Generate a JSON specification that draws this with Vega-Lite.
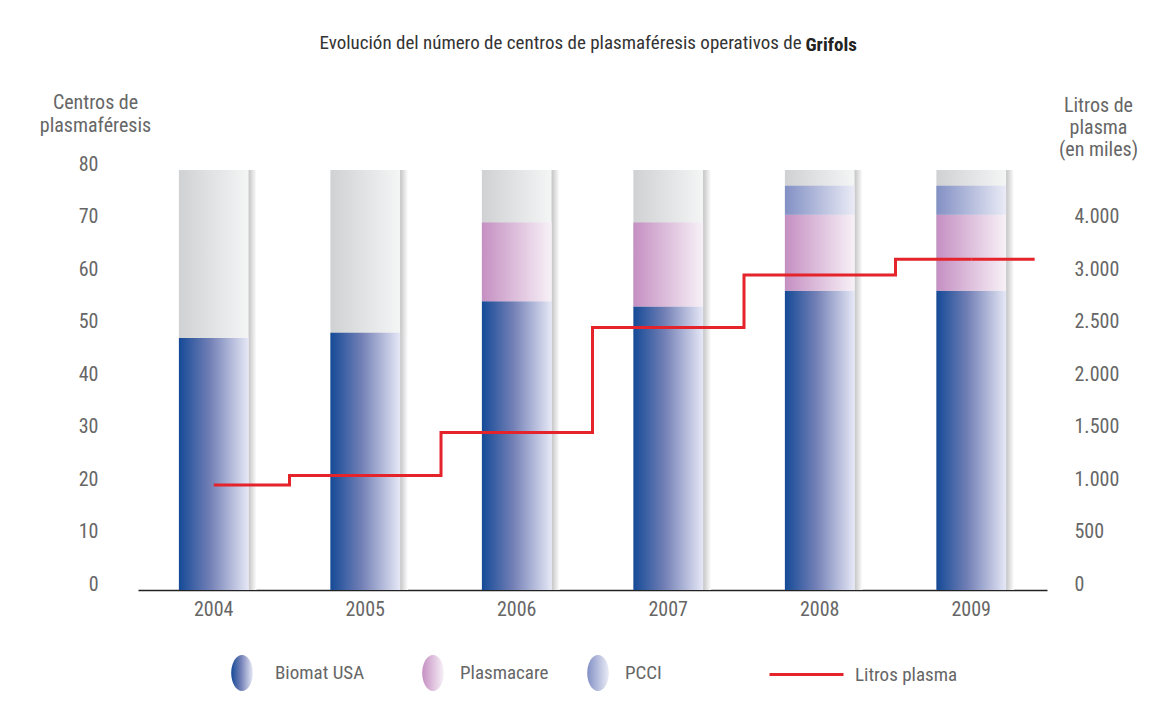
{
  "$schema": "https://vega.github.io/schema/vega-lite/v6.json",
  "width": 909,
  "height": 420,
  "autosize": {"type": "none"},
  "padding": {"left": 138, "top": 170, "right": 113, "bottom": 125},
  "background": "white",
  "title": {
    "text": "Evolución del número de centros de plasmaféresis operativos de",
    "font": "Liberation Sans Narrow, Roboto Condensed, DejaVu Sans Condensed, sans-serif",
    "fontSize": 19,
    "fontWeight": "normal",
    "color": "#333333",
    "anchor": "middle",
    "dx": -32,
    "offset": -18
  },
  "datasets": {
    "centros": [
      {"year": "2004", "serie": "Biomat USA", "centros": 48, "orden": 1},
      {"year": "2005", "serie": "Biomat USA", "centros": 49, "orden": 1},
      {"year": "2006", "serie": "Biomat USA", "centros": 55, "orden": 1},
      {"year": "2006", "serie": "Plasmacare", "centros": 15, "orden": 2},
      {"year": "2007", "serie": "Biomat USA", "centros": 54, "orden": 1},
      {"year": "2007", "serie": "Plasmacare", "centros": 16, "orden": 2},
      {"year": "2008", "serie": "Biomat USA", "centros": 57, "orden": 1},
      {"year": "2008", "serie": "Plasmacare", "centros": 14.5, "orden": 2},
      {"year": "2008", "serie": "PCCI", "centros": 5.5, "orden": 3},
      {"year": "2009", "serie": "Biomat USA", "centros": 57, "orden": 1},
      {"year": "2009", "serie": "Plasmacare", "centros": 14.5, "orden": 2},
      {"year": "2009", "serie": "PCCI", "centros": 5.5, "orden": 3}
    ],
    "litros": [
      {"year": "2004", "litros": 1000},
      {"year": "2005", "litros": 1090},
      {"year": "2006", "litros": 1500},
      {"year": "2007", "litros": 2500},
      {"year": "2008", "litros": 3000},
      {"year": "2009", "litros": 3150}
    ]
  },
  "layer": [
    {
      "encoding": {
        "x": {
          "field": "year",
          "type": "ordinal",
          "scale": {"paddingInner": 0.54, "paddingOuter": 0.27},
          "axis": {"title": null}
        }
      },
      "resolve": {
        "scale": {"strokeDash": "independent"},
        "legend": {"strokeDash": "independent"}
      },
      "layer": [
        {
          "data": {"name": "litros"},
          "mark": {
            "type": "bar",
            "xOffset": 8,
            "fill": {
              "gradient": "linear", "x1": 0, "y1": 0, "x2": 1, "y2": 0,
              "stops": [
                {"offset": 0, "color": "#bcbcbe"},
                {"offset": 0.88, "color": "#c2c2c4"},
                {"offset": 1, "color": "#ffffff"}
              ]
            }
          },
          "encoding": {
            "y": {
              "datum": 80,
              "type": "quantitative",
              "scale": {"domain": [0, 80], "nice": false},
              "axis": {
                "orient": "left",
                "values": [0, 10, 20, 30, 40, 50, 60, 70, 80],
                "title": ["Centros de", "plasmaféresis"],
                "titleAngle": 0,
                "titleAlign": "center",
                "titleBaseline": "alphabetic",
                "titleX": -43,
                "titleY": -62,
                "titleLineHeight": 23,
                "labelPadding": 40,
                "labelBaseline": "alphabetic"
              }
            }
          }
        },
        {
          "data": {"name": "litros"},
          "mark": {
            "type": "bar",
            "fill": {
              "gradient": "linear", "x1": 0, "y1": 0, "x2": 1, "y2": 0,
              "stops": [
                {"offset": 0, "color": "#d0d1d3"},
                {"offset": 1, "color": "#f4f5f5"}
              ]
            }
          },
          "encoding": {
            "y": {"datum": 80, "type": "quantitative"}
          }
        },
        {
          "data": {"name": "centros"},
          "mark": {"type": "bar"},
          "encoding": {
            "y": {
              "field": "centros",
              "type": "quantitative",
              "stack": "zero",
              "title": ["Centros de", "plasmaféresis"]
            },
            "order": {"field": "orden", "type": "quantitative"},
            "fill": {
              "condition": [
                {
                  "test": "datum.serie === 'Biomat USA'",
                  "value": {
                    "gradient": "linear", "x1": 0, "y1": 0, "x2": 1, "y2": 0,
                    "stops": [
                      {"offset": 0, "color": "#154a97"},
                      {"offset": 0.45, "color": "#7380b6"},
                      {"offset": 1, "color": "#e6e8f6"}
                    ]
                  }
                },
                {
                  "test": "datum.serie === 'Plasmacare'",
                  "value": {
                    "gradient": "linear", "x1": 0, "y1": 0, "x2": 1, "y2": 0,
                    "stops": [
                      {"offset": 0, "color": "#c58fc2"},
                      {"offset": 1, "color": "#f7f1f7"}
                    ]
                  }
                }
              ],
              "value": {
                "gradient": "linear", "x1": 0, "y1": 0, "x2": 1, "y2": 0,
                "stops": [
                  {"offset": 0, "color": "#8290c4"},
                  {"offset": 1, "color": "#eaebf6"}
                ]
              }
            }
          }
        },
        {
          "data": {"name": "litros"},
          "mark": {
            "type": "bar",
            "opacity": 0,
            "fill": {
              "gradient": "linear", "x1": 0, "y1": 0, "x2": 1, "y2": 0,
              "stops": [
                {"offset": 0, "color": "#154a97"},
                {"offset": 0.45, "color": "#7380b6"},
                {"offset": 1, "color": "#e6e8f6"}
              ]
            }
          },
          "encoding": {
            "y": {"datum": 0, "type": "quantitative"},
            "strokeDash": {
              "datum": "Biomat USA",
              "type": "nominal",
              "legend": {
                "title": null,
                "orient": "none",
                "legendX": 86,
                "legendY": 485,
                "symbolType": "M0,-1A0.6,1,0,1,1,0,1A0.6,1,0,1,1,0,-1Z",
                "symbolSize": 1296,
                "symbolStrokeWidth": 0,
                "symbolOpacity": 1,
                "labelOffset": 15,
                "labelFontSize": 19,
                "labelColor": "#666666",
                "labelFont": "Liberation Sans Narrow, Roboto Condensed, DejaVu Sans Condensed, sans-serif"
              }
            }
          }
        },
        {
          "data": {"name": "litros"},
          "mark": {
            "type": "bar",
            "opacity": 0,
            "fill": {
              "gradient": "linear", "x1": 0, "y1": 0, "x2": 1, "y2": 0,
              "stops": [
                {"offset": 0, "color": "#c58fc2"},
                {"offset": 1, "color": "#f7f1f7"}
              ]
            }
          },
          "encoding": {
            "y": {"datum": 0, "type": "quantitative"},
            "strokeDash": {
              "datum": "Plasmacare",
              "type": "nominal",
              "legend": {
                "title": null,
                "orient": "none",
                "legendX": 277,
                "legendY": 485,
                "symbolType": "M0,-1A0.6,1,0,1,1,0,1A0.6,1,0,1,1,0,-1Z",
                "symbolSize": 1296,
                "symbolStrokeWidth": 0,
                "symbolOpacity": 1,
                "labelOffset": 9,
                "labelFontSize": 19,
                "labelColor": "#666666",
                "labelFont": "Liberation Sans Narrow, Roboto Condensed, DejaVu Sans Condensed, sans-serif"
              }
            }
          }
        },
        {
          "data": {"name": "litros"},
          "mark": {
            "type": "bar",
            "opacity": 0,
            "fill": {
              "gradient": "linear", "x1": 0, "y1": 0, "x2": 1, "y2": 0,
              "stops": [
                {"offset": 0, "color": "#8290c4"},
                {"offset": 1, "color": "#eaebf6"}
              ]
            }
          },
          "encoding": {
            "y": {"datum": 0, "type": "quantitative"},
            "strokeDash": {
              "datum": "PCCI",
              "type": "nominal",
              "legend": {
                "title": null,
                "orient": "none",
                "legendX": 442,
                "legendY": 485,
                "symbolType": "M0,-1A0.6,1,0,1,1,0,1A0.6,1,0,1,1,0,-1Z",
                "symbolSize": 1296,
                "symbolStrokeWidth": 0,
                "symbolOpacity": 1,
                "labelOffset": 9,
                "labelFontSize": 19,
                "labelColor": "#666666",
                "labelFont": "Liberation Sans Narrow, Roboto Condensed, DejaVu Sans Condensed, sans-serif"
              }
            }
          }
        }
      ]
    },
    {
      "data": {"name": "litros"},
      "encoding": {
        "x": {
          "field": "year",
          "type": "ordinal",
          "axis": {
            "orient": "top",
            "labels": false,
            "domain": false,
            "ticks": false,
            "title": "Grifols",
            "titleFontWeight": "bold",
            "titleColor": "#222222",
            "titleFontSize": 19,
            "titleAlign": "left",
            "titleBaseline": "alphabetic",
            "titleAnchor": "start",
            "titleX": 667,
            "titleY": -120
          }
        }
      },
      "layer": [
        {
          "mark": {"type": "line", "interpolate": "step", "strokeWidth": 3},
          "encoding": {
            "y": {
              "field": "litros",
              "type": "quantitative",
              "scale": {"domain": [0, 4000], "nice": false},
              "axis": {
                "orient": "right",
                "values": [0, 500, 1000, 1500, 2000, 2500, 3000, 3500],
                "labelExpr": "datum.value == 3500 ? '4.000' : replace(format(datum.value, ','), ',', '.')",
                "title": ["Litros de", "plasma", "(en miles)"],
                "titleAngle": 0,
                "titleAlign": "center",
                "titleBaseline": "alphabetic",
                "titleX": 51,
                "titleY": -59,
                "titleLineHeight": 22,
                "labelPadding": 27,
                "labelAlign": "left",
                "labelBaseline": "alphabetic"
              }
            },
            "stroke": {
              "datum": "Litros plasma",
              "type": "nominal",
              "scale": {"range": ["#e4232b"]},
              "legend": {
                "title": null,
                "orient": "none",
                "legendX": 630,
                "legendY": 466,
                "symbolType": "stroke",
                "symbolSize": 5476,
                "symbolStrokeWidth": 3,
                "labelOffset": 10,
                "labelFontSize": 19,
                "labelColor": "#666666",
                "labelFont": "Liberation Sans Narrow, Roboto Condensed, DejaVu Sans Condensed, sans-serif"
              }
            }
          }
        },
        {
          "transform": [{"filter": "datum.year === '2009'"}],
          "mark": {"type": "rule", "strokeWidth": 3, "color": "#e4232b"},
          "encoding": {
            "x": {"field": "year", "type": "ordinal", "bandPosition": 0.5},
            "x2": {"field": "year", "bandPosition": 1.41},
            "y": {"field": "litros", "type": "quantitative"}
          }
        }
      ]
    }
  ],
  "resolve": {"scale": {"y": "independent"}, "axis": {"x": "independent"}},
  "config": {
    "view": {"stroke": null},
    "axis": {
      "grid": false,
      "ticks": false,
      "labelFont": "Liberation Sans Narrow, Roboto Condensed, DejaVu Sans Condensed, sans-serif",
      "labelFontSize": 20,
      "labelColor": "#666666",
      "titleFont": "Liberation Sans Narrow, Roboto Condensed, DejaVu Sans Condensed, sans-serif",
      "titleFontSize": 20,
      "titleFontWeight": "normal",
      "titleColor": "#666666"
    },
    "axisY": {"domain": false},
    "axisX": {
      "domainColor": "#222222",
      "domainWidth": 1.5,
      "labelPadding": 9,
      "labelAngle": 0
    }
  }
}
